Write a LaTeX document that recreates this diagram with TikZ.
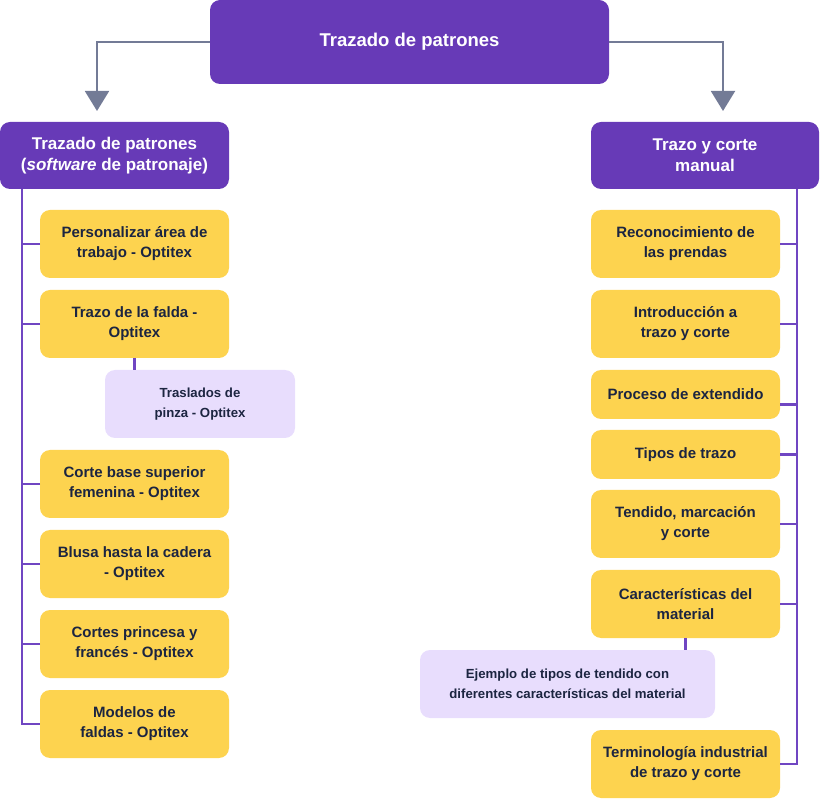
\documentclass[tikz,border=0pt]{standalone}
\usepackage{fontspec}
\setmainfont{Liberation Sans}
\usetikzlibrary{arrows.meta,calc}
\definecolor{hpurple}{HTML}{673AB7}
\definecolor{byellow}{HTML}{FDD34F}
\definecolor{blav}{HTML}{E8DDFD}
\definecolor{tnavy}{HTML}{1C2541}
\definecolor{lpurple}{HTML}{7046C2}
\definecolor{agray}{HTML}{737B96}
\begin{document}
\begin{tikzpicture}[x=1pt,y=-1pt,
  box/.style={rectangle,rounded corners=10pt,inner sep=0pt,outer sep=0pt,align=center,draw=none},
  hbox/.style={box,fill=hpurple,text=white,font=\bfseries\fontsize{17}{21}\selectfont},
  ybox/.style={box,fill=byellow,text=tnavy,minimum width=189pt,minimum height=68pt,font=\bfseries\fontsize{15}{20}\selectfont},
  lbox/.style={box,fill=blav,text=tnavy,minimum height=68pt,font=\bfseries\fontsize{13.2}{20}\selectfont},
  pl/.style={draw=lpurple,line width=2.2pt},
  arr/.style={draw=agray,line width=2pt,-{Triangle[width=24pt,length=20pt]}}
]
\useasboundingbox (0,0) rectangle (820,799);
% headers
\node[hbox,minimum width=399pt,minimum height=84pt,font=\bfseries\fontsize{18.5}{22}\selectfont] (top) at (409.5,42) {Trazado de patrones};
\node[hbox,minimum width=229pt,minimum height=67pt] (lh) at (114.5,155.5) {Trazado de patrones\\(\textit{software} de patronaje)};
\node[hbox,minimum width=228pt,minimum height=67pt] (rh) at (705,155.5) {Trazo y corte\\manual};
% left boxes
\node[ybox] (l1) at (134.5,244) {Personalizar área de\\trabajo - Optitex};
\node[ybox] (l2) at (134.5,324) {Trazo de la falda -\\Optitex};
\node[lbox,minimum width=190pt] (s1) at (200,404) {Traslados de\\pinza - Optitex};
\node[ybox] (l3) at (134.5,484) {Corte base superior\\femenina - Optitex};
\node[ybox] (l4) at (134.5,564) {Blusa hasta la cadera\\- Optitex};
\node[ybox] (l5) at (134.5,644) {Cortes princesa y\\francés - Optitex};
\node[ybox] (l6) at (134.5,724) {Modelos de\\faldas - Optitex};
% right boxes
\node[ybox] (r1) at (685.5,244) {Reconocimiento de\\las prendas};
\node[ybox] (r2) at (685.5,324) {Introducción a\\trazo y corte};
\node[ybox,minimum height=49pt] (r3) at (685.5,394.5) {Proceso de extendido};
\node[ybox,minimum height=49pt] (r4) at (685.5,454.5) {Tipos de trazo};
\node[ybox] (r5) at (685.5,524) {Tendido, marcación\\y corte};
\node[ybox] (r6) at (685.5,604) {Características del\\material};
\node[lbox,minimum width=295pt] (s2) at (567.5,684) {Ejemplo de tipos de tendido con\\diferentes características del material};
\node[ybox] (r7) at (685.5,764) {Terminología industrial\\de trazo y corte};
% arrows from top
\coordinate (la) at (97,111);
\coordinate (ra) at (723,111);
\draw[arr] (top.west) -| (la);
\draw[arr] (top.east) -| (ra);
% left trunk
\coordinate (lt) at (22,189);
\draw[pl] (lt) |- (l6.west);
\foreach \n in {l1,l2,l3,l4,l5} \draw[pl] (\n.west) -- (\n.west -| lt);
\draw[pl] (l2.south) -- (l2.south |- s1.north);
% right trunk
\coordinate (rt) at (797,189);
\draw[pl] (rt) |- (r7.east);
\foreach \n in {r1,r2,r4,r5,r6} \draw[pl] (\n.east) -- (\n.east -| rt);
\coordinate (r3t) at ($(r3.east)+(0,10)$);
\draw[pl] (r3t) -- (r3t -| rt);
\draw[pl] (r6.south) -- (r6.south |- s2.north);
\end{tikzpicture}
\end{document}
